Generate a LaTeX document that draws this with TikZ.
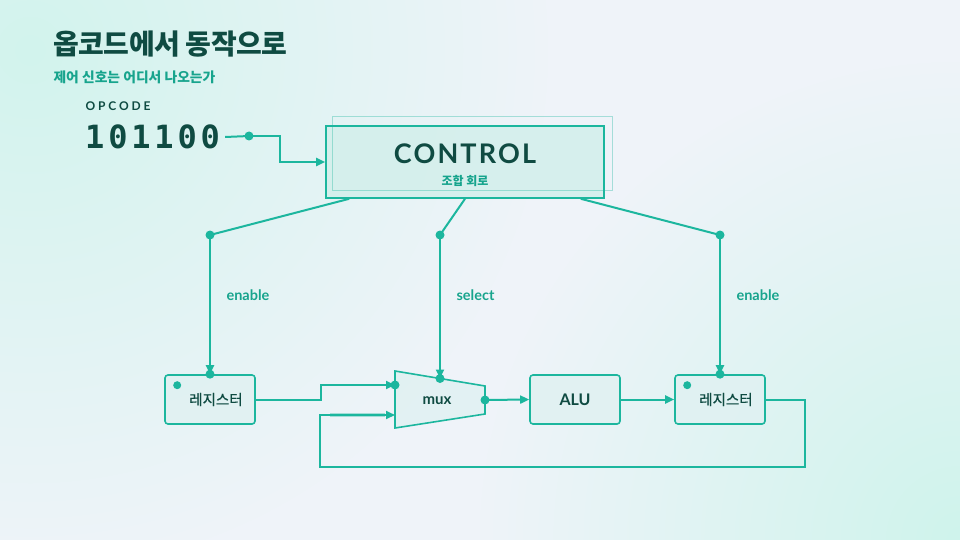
\documentclass[tikz,border=0pt]{standalone}
\usepackage{fontspec}
\setmainfont{Lato}
\newfontfamily\krfont{Noto Sans CJK KR}
\newfontfamily\krmedfont[FakeBold=0.5]{Noto Sans CJK KR}
\newfontfamily\krtitlefont[LetterSpace=-2]{Noto Sans CJK KR}
\newfontfamily\ctrlfont[LetterSpace=8]{Lato}
\newfontfamily\opfont[LetterSpace=24]{Lato}
\newfontfamily\bitfont[LetterSpace=12]{DejaVu Sans Mono}
\usetikzlibrary{arrows.meta,positioning,fadings}

\definecolor{bgbase}{HTML}{EFF3F9}
\definecolor{bgteal}{HTML}{CFF3EC}
\definecolor{wire}{HTML}{1CB69E}
\definecolor{wiretext}{HTML}{17A48D}
\definecolor{ink}{HTML}{0F4B42}
\definecolor{boxfill}{HTML}{E0F1F2}
\definecolor{ctrlfill}{HTML}{D4EFEC}

\tikzfading[name=glowfade, inner color=transparent!0, outer color=transparent!100]

\newcommand\dotsize{4.5}
\newcommand\labelstyle{\fontsize{14.5}{16}\selectfont\bfseries}
\newcommand\regstyle{\krmedfont\fontsize{14.5}{16}\selectfont}

\tikzset{
  wire/.style={draw=wire, line width=2pt, -{Triangle[length=9pt,width=8pt]}},
  plainwire/.style={draw=wire, line width=2pt},
  regbox/.style={draw=wire, line width=1.6pt, fill=boxfill, fill opacity=0.85,
    rounded corners=3pt, minimum width=90pt, minimum height=49pt, inner sep=0pt},
  ctrlbox/.style={draw=wire, line width=1.6pt, fill=ctrlfill, fill opacity=0.9,
    minimum width=278pt, minimum height=72pt, inner sep=0pt},
  ghost/.style={draw=wire, line width=1pt, draw opacity=0.35},
  siglabel/.style={anchor=west, text=wiretext, font=\labelstyle},
  regtext/.style={text=ink, font=\regstyle},
  wiredot/.style={fill=wire}
}

\begin{document}
\begin{tikzpicture}[x=1pt, y=-1pt]
  \useasboundingbox (0,0) rectangle (960,540);
  % background
  \begin{scope}
    \clip (0,0) rectangle (960,540);
    \fill[bgbase] (0,0) rectangle (960,540);
    \fill[bgteal, path fading=glowfade, opacity=0.9] (30,50) circle (520);
    \fill[bgteal, path fading=glowfade] (960,540) circle (480);
  \end{scope}

  % heading
  \node[anchor=west, text=ink, font=\krtitlefont\fontsize{28}{30}\selectfont\bfseries] (title) at (50,44) {옵코드에서 동작으로};
  \node[anchor=west, text=wiretext, font=\krfont\fontsize{13.8}{15}\selectfont\bfseries] (subtitle) at (50,77) {제어 신호는 어디서 나오는가};
  \node[anchor=west, text=ink, font=\opfont\fontsize{12}{13}\selectfont\bfseries] (oplabel) at (82,106) {OPCODE};
  \node[anchor=west, text=ink, font=\bitfont\fontsize{32}{34}\selectfont\bfseries, inner sep=2pt] (bits) at (83,137) {101100};

  % control unit
  \node[ctrlbox] (ctrl) at (465,162) {};
  \draw[ghost] ([xshift=7pt,yshift=9pt]ctrl.north west) rectangle ([xshift=8pt,yshift=8pt]ctrl.south east);
  \node[text=ink, font=\ctrlfont\fontsize{27}{29}\selectfont\bfseries] (ctrltitle) at (465,154) {CONTROL};
  \node[text=wiretext, font=\krfont\fontsize{12}{14}\selectfont\bfseries] (ctrlsub) at (465,181) {조합 회로};

  % datapath
  \node[regbox] (regA) at (210,399.5) {};
  \node[regtext] (regAtxt) at ([xshift=6pt]regA.center) {레지스터};
  \node[regbox] (alu) at (575,399.5) {};
  \node[text=ink, font=\fontsize{16}{18}\selectfont\bfseries] (alutxt) at (alu.center) {ALU};
  \node[regbox] (regB) at (720,399.5) {};
  \node[regtext] (regBtxt) at ([xshift=6pt]regB.center) {레지스터};
  \fill[wiredot] ([xshift=13pt,yshift=-11pt]regA.north west) circle (4);
  \fill[wiredot] ([xshift=13pt,yshift=-11pt]regB.north west) circle (4);

  % mux
  \draw[plainwire, line width=1.6pt, fill=boxfill, fill opacity=0.85] (395,371) -- (485,386) -- (485,414) -- (395,428) -- cycle;
  \node[text=ink, font=\fontsize{15}{17}\selectfont\bfseries] (mux) at (437,401) {mux};
  \coordinate (muxA) at (395,385);
  \coordinate (muxB) at (395,415);
  \coordinate (muxS) at (440,378.5);
  \coordinate (muxO) at (485,400);

  % control lines
  \coordinate (opdot) at (249,136);
  \coordinate (enA) at (210,235);
  \coordinate (sel) at (440,235);
  \coordinate (enB) at (720,235);
  \draw[plainwire] ([xshift=3pt]bits.east) -- (opdot);
  \draw[wire] (opdot) -- ++(31,0) |- (ctrl.west);
  \draw[plainwire] ([xshift=24pt]ctrl.south west) -- (enA);
  \draw[plainwire] (ctrl.south) -- (sel);
  \draw[plainwire] ([xshift=-24pt]ctrl.south east) -- (enB);
  \draw[wire] (enA) -- (regA.north);
  \draw[wire] (sel) -- (muxS);
  \draw[wire] (enB) -- (regB.north);
  \node[siglabel] (enAtxt) at ([xshift=13pt]enA |- 0,295) {enable};
  \node[siglabel] (seltxt) at ([xshift=13pt]sel |- 0,295) {select};
  \node[siglabel] (enBtxt) at ([xshift=13pt]enB |- 0,295) {enable};

  % data lines
  \coordinate (loop) at (805,467);
  \draw[wire] (regA.east) -- ++(65,0) |- (muxA);
  \draw[wire] (regB.east) -| (loop) -| ([xshift=-75pt]muxB) -- (muxB);
  \draw[draw=wire, line width=4pt, draw opacity=0.35] ([xshift=-65pt]muxB) -- ([xshift=-10pt]muxB);
  \draw[wire] (muxO) -- (alu.west);
  \draw[wire] (alu.east) -- (regB.west);

  \foreach \p in {opdot,enA,sel,enB,muxA,muxS,muxO,regA.north,regB.north}
    \fill[wiredot] (\p) circle (\dotsize);
\end{tikzpicture}
\end{document}
